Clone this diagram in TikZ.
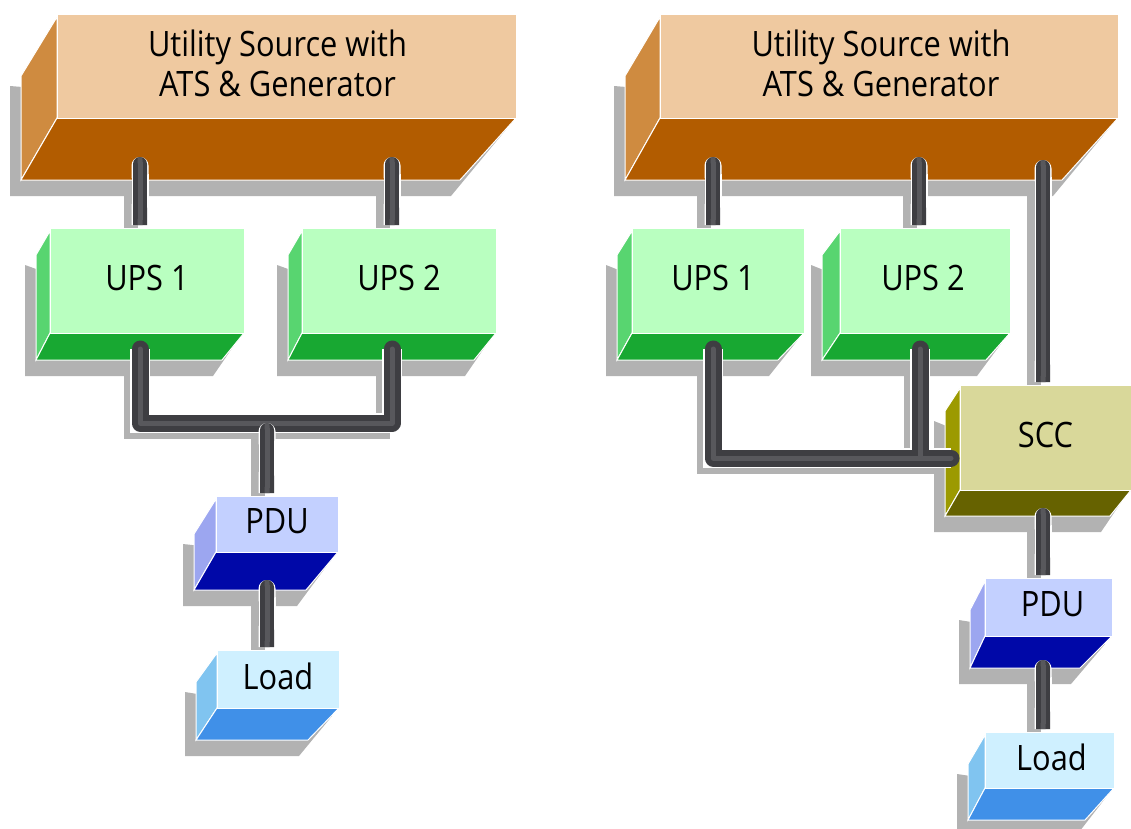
\documentclass[tikz,border=0pt]{standalone}
\usepackage{fontspec}
\setmainfont[FakeStretch=0.88]{Open Sans}
\usetikzlibrary{arrows.meta,backgrounds}

\definecolor{utilfront}{HTML}{EFC9A0}
\definecolor{utilside}{HTML}{CF8B40}
\definecolor{utilunder}{HTML}{B25C00}
\definecolor{upsfront}{HTML}{B9FFC0}
\definecolor{upsside}{HTML}{58D570}
\definecolor{upsunder}{HTML}{18A832}
\definecolor{sccfront}{HTML}{D9D89A}
\definecolor{sccside}{HTML}{9C9A00}
\definecolor{sccunder}{HTML}{666200}
\definecolor{pdufront}{HTML}{C3D0FF}
\definecolor{pduside}{HTML}{9CA6F0}
\definecolor{pduunder}{HTML}{0008A8}
\definecolor{loadfront}{HTML}{CFF0FF}
\definecolor{loadside}{HTML}{80C4F0}
\definecolor{loadunder}{HTML}{4090E8}
\definecolor{shadowgray}{HTML}{B2B2B2}
\definecolor{wiredark}{HTML}{3E3E42}
\definecolor{wirelight}{HTML}{58585C}

\tikzset{
    face/.style={draw=white, line width=1pt},
    boxshadow/.style={fill=shadowgray},
    boxtext/.style={draw=white, line width=1pt, inner sep=0pt, outer sep=0pt, align=center, text=black,
        text depth=6pt, font=\fontsize{35}{40}\selectfont},
    wire/.style={wiredark, line width=14pt, shorten >=3pt, {Round Cap[]}-{Butt Cap[]},
        preaction={draw=white, line width=17pt},
        postaction={draw=wirelight, line width=5pt}},
    bus/.style={wiredark, line width=17pt, line cap=round, line join=round,
        preaction={draw=white, line width=20pt},
        postaction={draw=wirelight, line width=5pt}},
    wireshadow/.style={shadowgray, line width=14pt, transform canvas={xshift=-9pt, yshift=-9pt}}
}

% #1 name, #2 colours, #3-#6 front face, #7 lower edge, #8-#9 lower corners; the text follows the call
\newcommand{\solidbox}[9]{
    \begin{pgfonlayer}{background}
        \fill[boxshadow] ({#8-11},{#4+#7-#6+10}) -- ({#8-11},{#7+16}) -- ({#9-9},{#7+16}) -- ({#5-7},{#6+8}) -- cycle;
    \end{pgfonlayer}
    \draw[face, fill=#2side] (#3,{#4+3}) -- (#3,#6) -- (#8,#7) -- (#8,{#4+#7-#6}) -- cycle;
    \draw[face, fill=#2under] (#3,#6) -- (#5,#6) -- (#9,#7) -- (#8,#7) -- cycle;
    \node[boxtext, fill=#2front, minimum width={(#5-#3)*1pt}, minimum height={(#6-#4)*1pt}] (#1) at ({(#3+#5)/2},{(#4+#6)/2})
}
\newcommand{\wirerun}[2][wire]{
    \begin{pgfonlayer}{background}
        \draw[wireshadow] #2;
    \end{pgfonlayer}
    \draw[#1] #2;
}

\begin{document}
\begin{tikzpicture}[x=1pt,y=-1pt]
    \useasboundingbox (0,0) rectangle (1131,828);

    % Left system
    \solidbox{utilL}{util}{57}{14}{516}{118}{180}{21}{460} {\hspace*{-18pt}Utility Source with\\\hspace*{-18pt}ATS \& Generator};
    \solidbox{upsLa}{ups}{50}{228}{244}{333}{360}{36}{222} {UPS 1};
    \solidbox{upsLb}{ups}{302}{228}{496}{333}{360}{288}{474} {UPS 2};
    \solidbox{pduL}{pdu}{216}{496}{338}{552}{590}{194}{306} {PDU};
    \solidbox{loadL}{load}{217}{650}{339}{708}{740}{196}{308} {Load};

    \coordinate (utilLa) at (140,157);
    \coordinate (utilLb) at (392,157);
    \coordinate (busLa) at (140,349);
    \coordinate (busLb) at (392,349);
    \coordinate (busLc) at (267,423);
    \coordinate (pduLout) at (267,580);

    \wirerun{(utilLa) -- (upsLa.north -| utilLa)}
    \wirerun{(utilLb) -- (upsLb.north -| utilLb)}
    \wirerun[bus]{(busLa) |- (busLc) -| (busLb)}
    \wirerun{(busLc) -- (pduL.north -| busLc)}
    \wirerun{(pduLout) -- (loadL.north -| pduLout)}

    % Right system
    \solidbox{utilR}{util}{660}{14}{1118}{118}{180}{625}{1062} {\hspace*{-16pt}Utility Source with\\\hspace*{-16pt}ATS \& Generator};
    \solidbox{upsRa}{ups}{632}{228}{804}{333}{360}{617}{778} {\hspace*{-10pt}UPS 1};
    \solidbox{upsRb}{ups}{840}{228}{1010}{333}{360}{822}{986} {\hspace*{-4pt}UPS 2};
    \solidbox{sccR}{scc}{960}{385}{1131}{490}{516}{945}{1110} {SCC};
    \solidbox{pduR}{pdu}{985}{578}{1112}{636}{668}{970}{1080} {\hspace*{8pt}PDU};
    \solidbox{loadR}{load}{985}{732}{1114}{788}{820}{968}{1085} {\hspace*{4pt}Load};

    \coordinate (utilRa) at (713,157);
    \coordinate (utilRb) at (919,157);
    \coordinate (utilRc) at (1043,160);
    \coordinate (busRa) at (713,349);
    \coordinate (busRb) at (920,349);
    \coordinate (busRc) at (951,458);
    \coordinate (sccRout) at (1043,508);
    \coordinate (pduRout) at (1043,660);

    \wirerun{(utilRa) -- (upsRa.north -| utilRa)}
    \wirerun{(utilRb) -- (upsRb.north -| utilRb)}
    \wirerun{(utilRc) -- (sccR.north -| utilRc)}
    \wirerun[bus]{(busRa) |- (busRc) (busRb) |- (busRc)}
    \wirerun{(sccRout) -- (pduR.north -| sccRout)}
    \wirerun{(pduRout) -- (loadR.north -| pduRout)}
\end{tikzpicture}
\end{document}
